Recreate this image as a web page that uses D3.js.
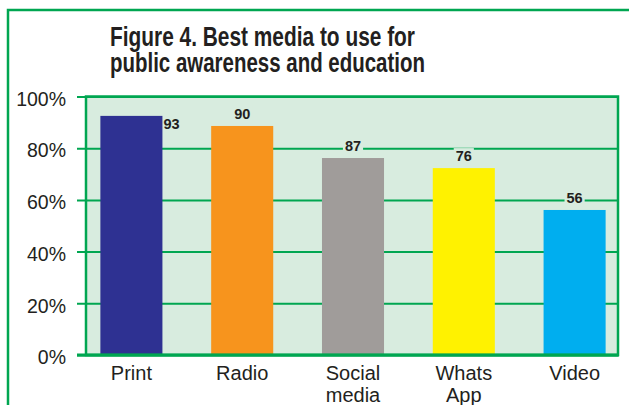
<!DOCTYPE html>
<html>
<head>
<meta charset="utf-8">
<script src="https://cdn.jsdelivr.net/npm/d3@7"></script>
<style>
  body { margin: 0; background: #fff; }
  text { font-family: "Liberation Sans", Arial, sans-serif; fill: #231f20; }
  .title { font-family: "Liberation Sans", Arial, sans-serif; font-weight: bold; }
</style>
</head>
<body>
<div id="chart"></div>
<script>
const categories = ['Print', 'Radio', 'Social media', 'Whats App', 'Video']
// bar heights as drawn in the figure (percent)
const barValues = [92.5, 88.6, 76.2, 72.3, 56.1]
// value labels printed over the bars
const labelValues = [93, 90, 87, 76, 56]
const colors = ['#2e3192', '#f7941d', '#a09c9a', '#fff200', '#00aeef']
const yTicks = [0, 20, 40, 60, 80, 100]
const titleLines = ['Figure 4. Best media to use for', 'public awareness and education']

const width = 629
const height = 405
const plot = { left: 86, top: 96.5, right: 618, bottom: 355 }
const green = '#00a651'
const plotBg = '#d8ecdf'

const svg = d3.select('#chart')
  .append('svg')
    .attr('width', width)
    .attr('height', height)

// outer frame (only top and left visible)
svg.append('path')
  .attr('d', 'M8,' + height + 'V10H' + width)
  .attr('fill', 'none')
  .attr('stroke', green)
  .attr('stroke-width', 2.5)

// title, squeezed to look like a condensed face
const titleWidths = [305, 315]
svg.append('g')
  .selectAll('text')
  .data(titleLines)
  .enter()
  .append('text')
    .attr('class', 'title')
    .attr('x', 110)
    .attr('y', (d, i) => 45.5 + i * 26.5)
    .attr('textLength', (d, i) => titleWidths[i])
    .attr('lengthAdjust', 'spacingAndGlyphs')
    .style('font-size', '28.5px')
    .text(d => d)

const x = d3.scaleBand()
  .domain(categories)
  .range([76, 630])
  .paddingInner(0.44)
  .paddingOuter(0.22)

const y = d3.scaleLinear()
  .domain([0, 100])
  .range([plot.bottom, plot.top])

// plot background
svg.append('rect')
  .attr('x', plot.left)
  .attr('y', plot.top)
  .attr('width', plot.right - plot.left)
  .attr('height', plot.bottom - plot.top)
  .attr('fill', plotBg)

// gridlines + y axis
const yAxis = svg.append('g')
  .attr('transform', 'translate(' + plot.left + ',0)')
  .call(d3.axisLeft(y)
    .tickValues(yTicks)
    .tickSize(-(plot.right - plot.left))
    .tickPadding(20)
    .tickFormat(d => d + '%'))
yAxis.select('.domain').remove()
yAxis.selectAll('line')
  .attr('x1', -9)
  .attr('stroke', green)
  .attr('stroke-width', 2)
yAxis.selectAll('text')
  .attr('dy', '0.45em')
  .style('font-size', '19.5px')
  .style('font-family', '"Liberation Sans", Arial, sans-serif')
  .attr('fill', '#231f20')

// bars
svg.selectAll('allBars')
  .data(barValues)
  .enter()
  .append('rect')
    .attr('x', (d, i) => x(categories[i]))
    .attr('y', d => y(d))
    .attr('width', x.bandwidth())
    .attr('height', d => plot.bottom - y(d))
    .attr('fill', (d, i) => colors[i])

// plot frame
svg.append('rect')
  .attr('x', plot.left)
  .attr('y', plot.top)
  .attr('width', plot.right - plot.left)
  .attr('height', plot.bottom - plot.top)
  .attr('fill', 'none')
  .attr('stroke', green)
  .attr('stroke-width', 2.5)

// x axis line
svg.append('line')
  .attr('x1', 77)
  .attr('x2', plot.right + 1)
  .attr('y1', plot.bottom)
  .attr('y2', plot.bottom)
  .attr('stroke', green)
  .attr('stroke-width', 3)

// value labels, the first one sits beside its bar
const labels = svg.selectAll('allLabels')
  .data(labelValues)
  .enter()
  .append('g')
    .attr('transform', (d, i) => {
      const top = y(barValues[i])
      if (i === 0) return 'translate(' + (x(categories[i]) + x.bandwidth() + 1) + ',' + (top + 13) + ')'
      return 'translate(' + (x(categories[i]) + x.bandwidth() / 2) + ',' + (top - 7) + ')'
    })

labels.append('text')
  .attr('text-anchor', (d, i) => i === 0 ? 'start' : 'middle')
  .style('font-size', '14.5px')
  .style('font-weight', 'bold')
  .text(d => d)

labels.each(function(d, i) {
  if (i === 0) return
  const g = d3.select(this)
  const bb = g.select('text').node().getBBox()
  g.insert('rect', 'text')
    .attr('x', bb.x - 2)
    .attr('y', bb.y)
    .attr('width', bb.width + 4)
    .attr('height', bb.height + 2)
    .attr('fill', plotBg)
})

// category labels
const xAxis = svg.append('g')
  .attr('transform', 'translate(0,' + plot.bottom + ')')
  .call(d3.axisBottom(x).tickSize(0).tickFormat(''))
xAxis.select('.domain').remove()
xAxis.selectAll('.tick')
  .append('text')
    .attr('text-anchor', 'middle')
    .style('font-size', '20px')
    .selectAll('tspan')
    .data(d => d.split(' '))
    .enter()
    .append('tspan')
      .attr('x', 0)
      .attr('y', (d, i) => 25 + i * 21.5)
      .text(d => d)
</script>
</body>
</html>
